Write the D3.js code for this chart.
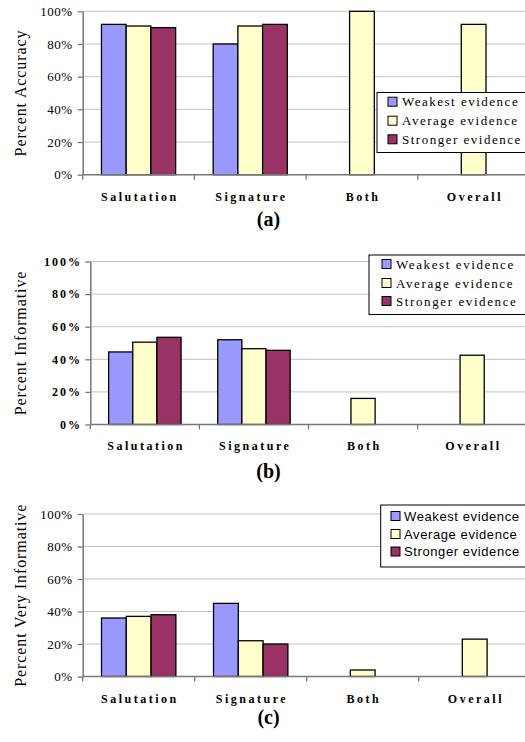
<!DOCTYPE html>
<html>
<head>
<meta charset="utf-8">
<script src="https://cdn.jsdelivr.net/npm/d3@7"></script>
<style>
  html, body { margin: 0; padding: 0; background: #fff; overflow: hidden; }
  svg { display: block; }
</style>
</head>
<body>
<script>
// Categories and series shared by the three panels
const categories = ["Salutation", "Signature", "Both", "Overall"];
const seriesNames = ["Weakest evidence", "Average evidence", "Stronger evidence"];
const tickValues = [0, 20, 40, 60, 80, 100];

// (a) Percent accuracy
const accuracyWeakest   = [92, 80, null, null];
const accuracyAverage   = [91, 91, 100, 92];
const accuracyStronger  = [90, 92, null, null];

// (b) Percent informative
const informativeWeakest  = [44.5, 52, null, null];
const informativeAverage  = [50.5, 46.5, 16, 42.5];
const informativeStronger = [53.5, 45.5, null, null];

// (c) Percent very informative
const veryWeakest  = [36, 45, null, null];
const veryAverage  = [37, 22, 4, 23];
const veryStronger = [38, 20, null, null];

const seriesColors = ["#9999ff", "#ffffcc", "#993366"];
const SERIF = "'Liberation Serif', 'Times New Roman', Times, serif";
const SANS = "'Liberation Sans', Arial, sans-serif";

const W = 525, H = 742;
const svg = d3.select("body").append("svg").attr("width", W).attr("height", H);

const panels = [
  {
    values: [accuracyWeakest, accuracyAverage, accuracyStronger],
    title: "Percent Accuracy", caption: "(a)",
    x0: 82.7, catW: 111.7, yTop: 11.3, yBot: 174.7,
    tickFont: { family: SERIF, size: 13, weight: "normal", ls: 0.5, pad: 5 },
    catLabelY: 200.8, titleX: 20, captionY: 226,
    legend: { x: 377, y: 92.5, h: 60, sq: 388, tx: 402, rows: [101.7, 120.7, 139.3],
              family: SERIF, size: 13, ls: 1.5 }
  },
  {
    values: [informativeWeakest, informativeAverage, informativeStronger],
    title: "Percent Informative", caption: "(b)",
    x0: 90.3, catW: 109.1, yTop: 261.5, yBot: 424.5,
    tickFont: { family: SERIF, size: 12, weight: "bold", ls: 2, pad: 3.3 },
    catLabelY: 450.2, titleX: 20, captionY: 477.5,
    legend: { x: 369, y: 255, h: 59.5, sq: 382, tx: 396, rows: [264, 283, 301],
              family: SERIF, size: 13, ls: 1.6 }
  },
  {
    values: [veryWeakest, veryAverage, veryStronger],
    title: "Percent Very Informative", caption: "(c)",
    x0: 82.7, catW: 112, yTop: 514, yBot: 676.5,
    tickFont: { family: SERIF, size: 13, weight: "normal", ls: 0.5, pad: 5 },
    catLabelY: 703, titleX: 20, captionY: 724,
    legend: { x: 380.7, y: 505, h: 62, sq: 391, tx: 404, rows: [516, 534, 551.5],
              family: SANS, size: 13, ls: 0.6 }
  }
];

panels.forEach(drawPanel);

function drawPanel(p) {
  const g = svg.append("g");
  const xEnd = p.x0 + p.catW * categories.length;

  const x = d3.scaleBand().domain(categories).range([p.x0, xEnd]).padding(0);
  const xs = d3.scaleBand().domain(seriesNames)
    .range([p.catW * 0.168, p.catW * 0.832]).padding(0);
  const y = d3.scaleLinear().domain([0, 100]).range([p.yBot, p.yTop]);

  // horizontal gridlines
  g.append("g").selectAll("line").data(tickValues.filter(d => d > 0)).join("line")
    .attr("x1", p.x0).attr("x2", W + 10)
    .attr("y1", d => y(d)).attr("y2", d => y(d))
    .attr("stroke", "#c4c4c4").attr("stroke-width", 1);

  // bars
  const rows = [];
  categories.forEach((c, i) => {
    seriesNames.forEach((s, j) => {
      const v = p.values[j][i];
      if (v != null) rows.push({ c, s, j, v });
    });
  });
  g.append("g").selectAll("rect").data(rows).join("rect")
    .attr("x", d => x(d.c) + xs(d.s))
    .attr("width", xs.bandwidth())
    .attr("y", d => y(d.v))
    .attr("height", d => y(0) - y(d.v))
    .attr("fill", d => seriesColors[d.j])
    .attr("stroke", "#000").attr("stroke-width", 1.3);

  // y axis
  const yAxis = d3.axisLeft(y).tickValues(tickValues).tickFormat(d => d + "%")
    .tickSize(5).tickSizeOuter(0).tickPadding(p.tickFont.pad);
  const ya = g.append("g").attr("transform", `translate(${p.x0},0)`).call(yAxis);
  ya.attr("font-family", null).attr("font-size", null);
  ya.select(".domain").attr("stroke", "#777").attr("stroke-width", 1.5);
  ya.selectAll(".tick line").attr("stroke", "#777").attr("stroke-width", 1.3);
  ya.selectAll(".tick text")
    .style("font-family", p.tickFont.family).style("font-size", p.tickFont.size + "px")
    .style("font-weight", p.tickFont.weight).style("letter-spacing", p.tickFont.ls + "px")
    .attr("fill", "#000");

  // x axis baseline with boundary ticks
  g.append("line").attr("x1", p.x0).attr("x2", W + 10)
    .attr("y1", y(0)).attr("y2", y(0)).attr("stroke", "#777").attr("stroke-width", 1.5);
  g.append("g").selectAll("line").data(categories).join("line")
    .attr("x1", d => x(d)).attr("x2", d => x(d))
    .attr("y1", y(0)).attr("y2", y(0) + 5)
    .attr("stroke", "#777").attr("stroke-width", 1.3);

  // category labels
  g.append("g").selectAll("text").data(categories).join("text")
    .attr("x", d => x(d) + x.bandwidth() / 2 + 1.25)
    .attr("y", p.catLabelY)
    .attr("text-anchor", "middle")
    .style("font-family", SERIF).style("font-size", "12px").style("font-weight", "bold")
    .style("letter-spacing", "2.5px")
    .text(d => d);

  // y axis title
  g.append("text")
    .attr("transform", `translate(${p.titleX},${(p.yTop + p.yBot) / 2}) rotate(-90)`)
    .attr("text-anchor", "middle").attr("dy", "0.35em")
    .style("font-family", SERIF).style("font-size", "16px").style("letter-spacing", "0.9px")
    .text(p.title);

  // legend
  const L = p.legend;
  const lg = g.append("g");
  lg.append("rect").attr("x", L.x).attr("y", L.y).attr("width", W + 10 - L.x).attr("height", L.h)
    .attr("fill", "#fff").attr("stroke", "#000").attr("stroke-width", 1);
  seriesNames.forEach((s, j) => {
    lg.append("rect").attr("x", L.sq).attr("y", L.rows[j] - 4.5).attr("width", 9).attr("height", 9)
      .attr("fill", seriesColors[j]).attr("stroke", "#000").attr("stroke-width", 1);
    lg.append("text").attr("x", L.tx).attr("y", L.rows[j]).attr("dy", "0.35em")
      .style("font-family", L.family).style("font-size", L.size + "px")
      .style("letter-spacing", L.ls + "px")
      .text(s);
  });

  // caption
  g.append("text").attr("x", 268.5).attr("y", p.captionY).attr("text-anchor", "middle")
    .style("font-family", SERIF).style("font-size", "20px").style("font-weight", "bold")
    .text(p.caption);
}
</script>
</body>
</html>
